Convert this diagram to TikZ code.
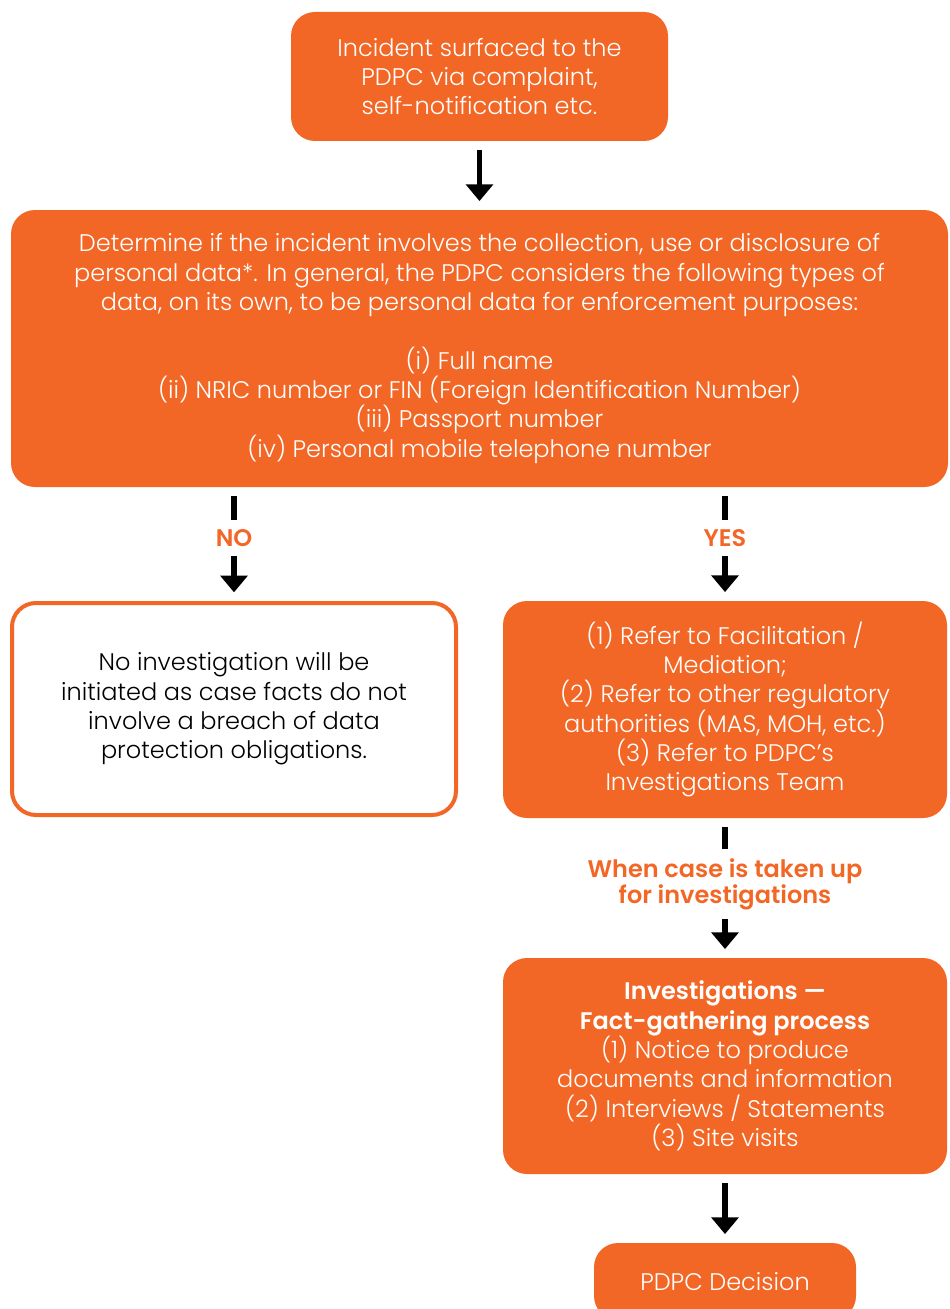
\documentclass[tikz,border=0pt]{standalone}
\usepackage{fontspec}
\setmainfont{Poppins}[UprightFont=* Light, BoldFont=* SemiBold]
\usetikzlibrary{arrows.meta,positioning,calc}
\definecolor{pdpcorange}{HTML}{F26726}

\begin{document}
\begin{tikzpicture}[x=0.75pt, y=-0.75pt,
  fillbox/.style={fill=pdpcorange, draw=none, rounded corners=18pt, text=white, align=center, inner sep=0pt, font=\fontsize{18}{22}\selectfont},
  openbox/.style={fill=white, draw=pdpcorange, line width=3pt, rounded corners=18pt, text=black, align=center, inner sep=0pt, font=\fontsize{18}{22}\selectfont},
  answer/.style={text=pdpcorange, align=center, inner sep=0pt, font=\bfseries\fontsize{18}{19.5}\selectfont},
  flow/.style={line width=4pt, black, shorten <=6.5pt, shorten >=6.5pt},
  flowarrow/.style={flow, -{Triangle[width=20pt,length=12.5pt]}}]
  \useasboundingbox (0,0) rectangle (949,1309);

  % Incident box
  \node[fillbox, minimum width=282.75pt, minimum height=96.75pt] (incident) at (479.5,76.5)
    {Incident surfaced to the\\PDPC via complaint,\\self-notification etc.};

  % Personal data check
  \node[fillbox, minimum width=702.75pt, minimum height=207.75pt] (check) at (479.5,348.5)
    {Determine if the incident involves the collection, use or disclosure of\\
     personal data*. In general, the PDPC considers the following types of\\
     data, on its own, to be personal data for enforcement purposes:\\[22pt]
     (i) Full name\\
     (ii) NRIC number or FIN (Foreign Identification Number)\\
     (iii) Passport number\\
     (iv) Personal mobile telephone number};

  % Answers
  \node[answer] (no) at (234,538) {NO};
  \node[answer] (yes) at (725,538) {YES};

  % Outcome boxes
  \node[openbox, minimum width=333pt, minimum height=159pt] (noinv) at (234,709)
    {No investigation will be\\initiated as case facts do not\\involve a breach of data\\protection obligations.};
  \node[fillbox, minimum width=333pt, minimum height=162.75pt] (refer) at (725,709.5)
    {(1) Refer to Facilitation /\\Mediation;\\(2) Refer to other regulatory\\authorities (MAS, MOH, etc.)\\(3) Refer to PDPC’s\\Investigations Team};

  \node[answer] (takenup) at (725,884) {When case is taken up\\for investigations};

  % Investigations
  \node[fillbox, minimum width=333pt, minimum height=162pt] (invest) at (725,1066)
    {\textbf{Investigations —}\\\textbf{Fact-gathering process}\\(1) Notice to produce\\documents and information\\(2) Interviews / Statements\\(3) Site visits};

  \node[fillbox, minimum width=196.5pt, minimum height=57.75pt] (decision) at (725,1281.5) {PDPC Decision};

  % Connectors
  \draw[flowarrow] (incident) -- (check);
  \draw[flow] (check.south -| no) -- (no);
  \draw[flowarrow] (no) -- (noinv);
  \draw[flow] (check.south -| yes) -- (yes);
  \draw[flowarrow] (yes) -- (refer);
  \draw[flow] (refer) -- (takenup);
  \draw[flowarrow] (takenup) -- (invest);
  \draw[flowarrow] (invest) -- (decision);
\end{tikzpicture}
\end{document}
